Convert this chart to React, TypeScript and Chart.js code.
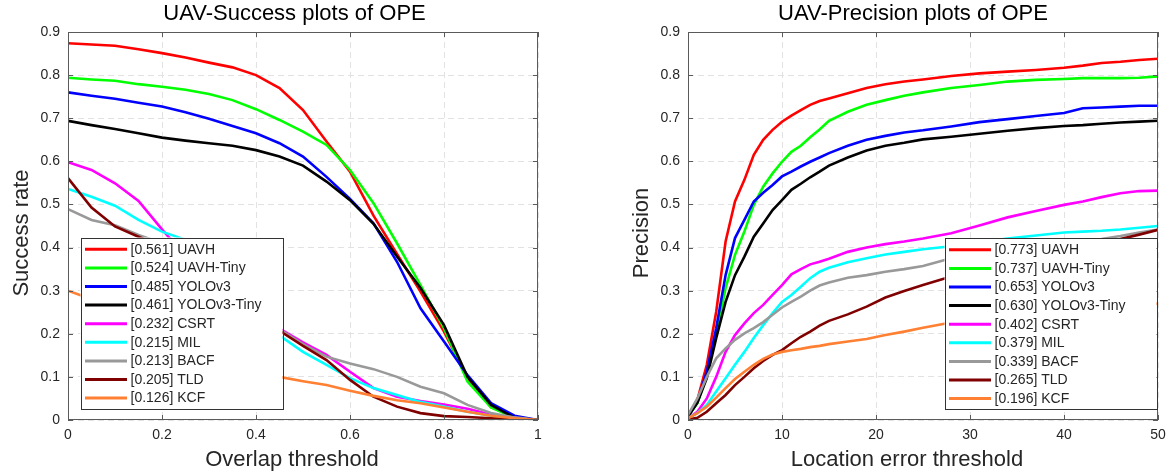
import React, { useEffect, useRef } from 'react';
import { Chart, registerables } from 'chart.js';

Chart.register(...registerables);

// ---------------- data ----------------
const trackerNames = ['UAVH', 'UAVH-Tiny', 'YOLOv3', 'YOLOv3-Tiny', 'CSRT', 'MIL', 'BACF', 'TLD', 'KCF'];
const trackerColors = ['#ff0000', '#00ff00', '#0000ff', '#000000', '#ff00ff', '#00ffff', '#999999', '#800000', '#ff8033'];
const successScores = [0.561, 0.524, 0.485, 0.461, 0.232, 0.215, 0.213, 0.205, 0.126];
const precisionScores = [0.773, 0.737, 0.653, 0.63, 0.402, 0.379, 0.339, 0.265, 0.196];

const overlapThresholds = [0, 0.05, 0.1, 0.15, 0.2, 0.25, 0.3, 0.35, 0.4, 0.45, 0.5, 0.55, 0.6, 0.65, 0.7, 0.75, 0.8, 0.85, 0.9, 0.95, 1];
const successUAVH = [0.874, 0.871, 0.868, 0.86, 0.851, 0.841, 0.829, 0.818, 0.8, 0.77, 0.719, 0.646, 0.576, 0.474, 0.385, 0.298, 0.205, 0.097, 0.03, 0.007, 0];
const successUAVHTiny = [0.794, 0.79, 0.787, 0.779, 0.773, 0.766, 0.756, 0.742, 0.721, 0.696, 0.669, 0.638, 0.58, 0.503, 0.41, 0.313, 0.213, 0.089, 0.029, 0.005, 0];
const successYOLOv3 = [0.76, 0.752, 0.745, 0.736, 0.727, 0.714, 0.699, 0.682, 0.665, 0.642, 0.611, 0.564, 0.513, 0.456, 0.367, 0.259, 0.182, 0.104, 0.039, 0.01, 0];
const successYOLOv3Tiny = [0.694, 0.684, 0.675, 0.665, 0.655, 0.648, 0.642, 0.636, 0.626, 0.611, 0.59, 0.553, 0.51, 0.455, 0.379, 0.306, 0.22, 0.1, 0.035, 0.005, 0];
const successCSRT = [0.598, 0.58, 0.549, 0.508, 0.442, 0.38, 0.33, 0.28, 0.24, 0.212, 0.18, 0.151, 0.112, 0.074, 0.054, 0.044, 0.036, 0.026, 0.013, 0.005, 0];
const successMIL = [0.536, 0.518, 0.497, 0.464, 0.437, 0.418, 0.36, 0.3, 0.25, 0.196, 0.158, 0.128, 0.097, 0.074, 0.058, 0.042, 0.031, 0.019, 0.01, 0.004, 0];
const successBACF = [0.489, 0.464, 0.452, 0.429, 0.41, 0.37, 0.33, 0.29, 0.25, 0.21, 0.176, 0.147, 0.131, 0.118, 0.1, 0.077, 0.062, 0.035, 0.016, 0.006, 0];
const successTLD = [0.561, 0.493, 0.449, 0.425, 0.4, 0.36, 0.32, 0.28, 0.24, 0.207, 0.172, 0.139, 0.093, 0.054, 0.031, 0.016, 0.009, 0.007, 0.004, 0.002, 0];
const successKCF = [0.3, 0.28, 0.255, 0.23, 0.205, 0.18, 0.155, 0.135, 0.115, 0.1, 0.09, 0.081, 0.068, 0.056, 0.046, 0.039, 0.029, 0.019, 0.01, 0.004, 0];

const locationThresholds = [0, 1, 2, 3, 4, 5, 6, 7, 8, 9, 10, 11, 12, 13, 14, 15, 17, 19, 21, 23, 25, 28, 31, 34, 37, 40, 42, 44, 46, 48, 50];
const precisionUAVH = [0.008, 0.047, 0.128, 0.251, 0.414, 0.507, 0.557, 0.615, 0.65, 0.673, 0.692, 0.706, 0.719, 0.731, 0.74, 0.746, 0.758, 0.77, 0.779, 0.785, 0.79, 0.798, 0.804, 0.808, 0.812, 0.817, 0.822, 0.828, 0.831, 0.835, 0.838];
const precisionUAVHTiny = [0.008, 0.039, 0.104, 0.197, 0.306, 0.383, 0.437, 0.499, 0.541, 0.572, 0.599, 0.622, 0.636, 0.656, 0.674, 0.694, 0.715, 0.731, 0.742, 0.752, 0.76, 0.77, 0.777, 0.785, 0.789, 0.791, 0.793, 0.793, 0.793, 0.794, 0.797];
const precisionYOLOv3 = [0.008, 0.042, 0.112, 0.213, 0.336, 0.422, 0.464, 0.507, 0.527, 0.545, 0.565, 0.576, 0.588, 0.599, 0.609, 0.619, 0.636, 0.65, 0.659, 0.667, 0.672, 0.681, 0.691, 0.698, 0.705, 0.712, 0.723, 0.725, 0.727, 0.729, 0.729];
const precisionYOLOv3Tiny = [0.008, 0.04, 0.097, 0.19, 0.274, 0.336, 0.379, 0.425, 0.456, 0.487, 0.51, 0.534, 0.548, 0.563, 0.576, 0.59, 0.609, 0.625, 0.636, 0.643, 0.651, 0.657, 0.664, 0.671, 0.677, 0.682, 0.684, 0.687, 0.69, 0.692, 0.694];
const precisionCSRT = [0.004, 0.019, 0.05, 0.1, 0.158, 0.197, 0.224, 0.248, 0.267, 0.29, 0.313, 0.338, 0.35, 0.361, 0.367, 0.374, 0.39, 0.4, 0.408, 0.414, 0.421, 0.433, 0.451, 0.47, 0.485, 0.499, 0.507, 0.517, 0.526, 0.531, 0.532];
const precisionMIL = [0.004, 0.016, 0.035, 0.066, 0.097, 0.128, 0.158, 0.19, 0.22, 0.248, 0.274, 0.29, 0.309, 0.329, 0.344, 0.353, 0.366, 0.375, 0.384, 0.39, 0.396, 0.403, 0.412, 0.421, 0.428, 0.435, 0.437, 0.439, 0.442, 0.446, 0.45];
const precisionBACF = [0.012, 0.05, 0.1, 0.143, 0.166, 0.186, 0.201, 0.213, 0.227, 0.244, 0.261, 0.274, 0.286, 0.3, 0.312, 0.319, 0.33, 0.336, 0.344, 0.35, 0.357, 0.375, 0.385, 0.395, 0.402, 0.41, 0.415, 0.42, 0.427, 0.435, 0.442];
const precisionTLD = [0.001, 0.005, 0.019, 0.039, 0.058, 0.081, 0.1, 0.12, 0.137, 0.151, 0.162, 0.178, 0.193, 0.205, 0.219, 0.23, 0.245, 0.263, 0.284, 0.299, 0.313, 0.333, 0.345, 0.36, 0.375, 0.39, 0.4, 0.41, 0.42, 0.43, 0.441];
const precisionKCF = [0.004, 0.016, 0.031, 0.052, 0.074, 0.095, 0.112, 0.128, 0.142, 0.152, 0.158, 0.162, 0.165, 0.169, 0.172, 0.176, 0.182, 0.188, 0.197, 0.205, 0.214, 0.226, 0.235, 0.242, 0.248, 0.254, 0.258, 0.262, 0.265, 0.268, 0.27];

const yTickValues = [0, 0.1, 0.2, 0.3, 0.4, 0.5, 0.6, 0.7, 0.8, 0.9];
const yTickLabels = ['0', '0.1', '0.2', '0.3', '0.4', '0.5', '0.6', '0.7', '0.8', '0.9'];
const overlapTickValues = [0, 0.2, 0.4, 0.6, 0.8, 1];
const overlapTickLabels = ['0', '0.2', '0.4', '0.6', '0.8', '1'];
const locationTickValues = [0, 10, 20, 30, 40, 50];
const locationTickLabels = ['0', '10', '20', '30', '40', '50'];

const successSeries = [successUAVH, successUAVHTiny, successYOLOv3, successYOLOv3Tiny, successCSRT, successMIL, successBACF, successTLD, successKCF];
const precisionSeries = [precisionUAVH, precisionUAVHTiny, precisionYOLOv3, precisionYOLOv3Tiny, precisionCSRT, precisionMIL, precisionBACF, precisionTLD, precisionKCF];

// ---------------- styling ----------------
const FONT = '"Liberation Sans", Arial, Helvetica, sans-serif';
const TEXT_COLOR = '#262626';
const AXIS_COLOR = '#5a5a5a';

type PanelProps = {
  left: number;
  width: number;
  padRight: number;
  title: string;
  xTitle: string;
  yTitle: string;
  xs: number[];
  series: number[][];
  scores: number[];
  xMax: number;
  xTicks: number[];
  xTickLabels: string[];
  legend: { leftOffset?: number; rightOffset?: number; bottomOffset: number; width: number; height: number };
  titleDx: number;
  xTitleDx: number;
  yTitleDy: number;
};

function ChartPanel(p: PanelProps) {
  const ref = useRef<HTMLCanvasElement | null>(null);
  useEffect(() => {
    if (!ref.current) return;
    const n = trackerNames.length;

    const framePlugin = {
      id: 'matlabFrame',
      afterDatasetsDraw(chart: any) {
        const { ctx, chartArea: a, scales } = chart;
        ctx.save();
        ctx.strokeStyle = AXIS_COLOR;
        ctx.lineWidth = 1;
        ctx.strokeRect(Math.round(a.left) + 0.5, Math.round(a.top) + 0.5, Math.round(a.right - a.left) - 1, Math.round(a.bottom - a.top) - 1);
        const tl = 5;
        ctx.beginPath();
        p.xTicks.forEach((v) => {
          const x = Math.round(scales.x.getPixelForValue(v)) + 0.5;
          ctx.moveTo(x, a.bottom);
          ctx.lineTo(x, a.bottom - tl);
          ctx.moveTo(x, a.top);
          ctx.lineTo(x, a.top + tl);
        });
        yTickValues.forEach((v) => {
          const y = Math.round(scales.y.getPixelForValue(v)) + 0.5;
          ctx.moveTo(a.left, y);
          ctx.lineTo(a.left + tl, y);
          ctx.moveTo(a.right, y);
          ctx.lineTo(a.right - tl, y);
        });
        ctx.stroke();
        ctx.restore();
      },
    };

    const legendPlugin = {
      id: 'insideLegend',
      afterDraw(chart: any) {
        const { ctx, chartArea: a } = chart;
        const L = p.legend;
        const bx = L.leftOffset !== undefined ? a.left + L.leftOffset : a.right - L.rightOffset! - L.width;
        const by = a.bottom - L.bottomOffset - L.height;
        ctx.save();
        ctx.fillStyle = '#ffffff';
        ctx.fillRect(bx, by, L.width, L.height);
        ctx.strokeStyle = '#333333';
        ctx.lineWidth = 1;
        ctx.strokeRect(Math.round(bx) + 0.5, Math.round(by) + 0.5, Math.round(L.width), Math.round(L.height));
        const rowH = 18.6;
        const top0 = by + 11.8;
        ctx.font = `14px ${FONT}`;
        ctx.textBaseline = 'middle';
        ctx.textAlign = 'left';
        chart.data.datasets.forEach((ds: any, i: number) => {
          const cy = top0 + i * rowH;
          ctx.strokeStyle = ds.borderColor;
          ctx.lineWidth = 3;
          ctx.beginPath();
          ctx.moveTo(bx + 4.5, cy);
          ctx.lineTo(bx + 46.5, cy);
          ctx.stroke();
          ctx.fillStyle = TEXT_COLOR;
          ctx.fillText(ds.label, bx + 50, cy + 0.5);
        });
        ctx.restore();
      },
    };

    const textPlugin = {
      id: 'matlabText',
      afterDraw(chart: any) {
        const { ctx, chartArea: a } = chart;
        const cx = (a.left + a.right) / 2;
        const cy = (a.top + a.bottom) / 2;
        ctx.save();
        ctx.textAlign = 'center';
        ctx.textBaseline = 'middle';
        ctx.fillStyle = '#000000';
        ctx.font = `22px ${FONT}`;
        ctx.fillText(p.title, cx + p.titleDx, 14);
        ctx.fillStyle = TEXT_COLOR;
        ctx.font = `22px ${FONT}`;
        ctx.fillText(p.xTitle, cx + p.xTitleDx, 460);
        ctx.translate(22, cy + p.yTitleDy);
        ctx.rotate(-Math.PI / 2);
        ctx.fillText(p.yTitle, 0, 0);
        ctx.restore();
      },
    };

    const chart = new Chart(ref.current, {
      type: 'line',
      data: {
        datasets: trackerNames.map((name, i) => ({
          label: `[${p.scores[i].toFixed(3)}] ${name}`,
          data: p.xs.map((x, j) => ({ x, y: p.series[i][j] })),
          borderColor: trackerColors[i],
          backgroundColor: trackerColors[i],
          borderWidth: 2.6,
          pointRadius: 0,
          tension: 0,
          fill: false,
          order: n - 1 - i,
        })),
      },
      options: {
        responsive: false,
        animation: false,
        devicePixelRatio: 1,
        layout: { padding: { left: 0, right: p.padRight, top: 32, bottom: 0 } },
        plugins: { legend: { display: false }, title: { display: false }, tooltip: { enabled: false } },
        events: [],
        scales: {
          x: {
            type: 'linear',
            min: 0,
            max: p.xMax,
            afterBuildTicks: (s: any) => {
              s.ticks = p.xTicks.map((v) => ({ value: v }));
            },
            afterFit: (s: any) => {
              s.height = 51;
              s.paddingLeft = 0;
              s.paddingRight = 0;
            },
            ticks: {
              callback: (_v: any, i: number) => p.xTickLabels[i],
              font: { family: FONT, size: 14 },
              color: TEXT_COLOR,
              padding: 7,
              maxRotation: 0,
              autoSkip: false,
            },
            grid: { color: '#e2e2e2', lineWidth: 1, drawTicks: false },
            border: { display: false, dash: [6, 4] },
          },
          y: {
            type: 'linear',
            min: 0,
            max: 0.9,
            afterBuildTicks: (s: any) => {
              s.ticks = yTickValues.map((v) => ({ value: v }));
            },
            afterFit: (s: any) => {
              s.width = 68;
              s.paddingTop = 0;
              s.paddingBottom = 0;
            },
            ticks: {
              callback: (_v: any, i: number) => yTickLabels[i],
              font: { family: FONT, size: 14 },
              color: TEXT_COLOR,
              padding: 8,
              autoSkip: false,
            },
            grid: { color: '#e2e2e2', lineWidth: 1, drawTicks: false },
            border: { display: false, dash: [6, 4] },
          },
        },
      } as any,
      plugins: [framePlugin, textPlugin, legendPlugin],
    });
    return () => chart.destroy();
  }, []);

  return (
    <canvas
      ref={ref}
      width={p.width}
      height={471}
      style={{ position: 'absolute', left: p.left, top: 0, width: p.width, height: 471 }}
    />
  );
}

export default function App() {
  return (
    <div style={{ position: 'absolute', left: 0, top: 0, width: 1167, height: 471, background: '#ffffff', overflow: 'hidden' }}>
      <ChartPanel
        left={0}
        width={580}
        padRight={42}
        title="UAV-Success plots of OPE"
        xTitle="Overlap threshold"
        yTitle="Success rate"
        xs={overlapThresholds}
        series={successSeries}
        scores={successScores}
        xMax={1}
        xTicks={overlapTickValues}
        xTickLabels={overlapTickLabels}
        legend={{ leftOffset: 12.5, bottomOffset: 12, width: 202, height: 170.5 }}
        titleDx={-8.5}
        xTitleDx={-11}
        yTitleDy={7}
      />
      <ChartPanel
        left={620}
        width={547}
        padRight={9}
        title="UAV-Precision plots of OPE"
        xTitle="Location error threshold"
        yTitle="Precision"
        xs={locationThresholds}
        series={precisionSeries}
        scores={precisionScores}
        xMax={50}
        xTicks={locationTickValues}
        xTickLabels={locationTickLabels}
        legend={{ rightOffset: 1.5, bottomOffset: 11, width: 212, height: 171 }}
        titleDx={-10}
        xTitleDx={-16}
        yTitleDy={7}
      />
    </div>
  );
}
